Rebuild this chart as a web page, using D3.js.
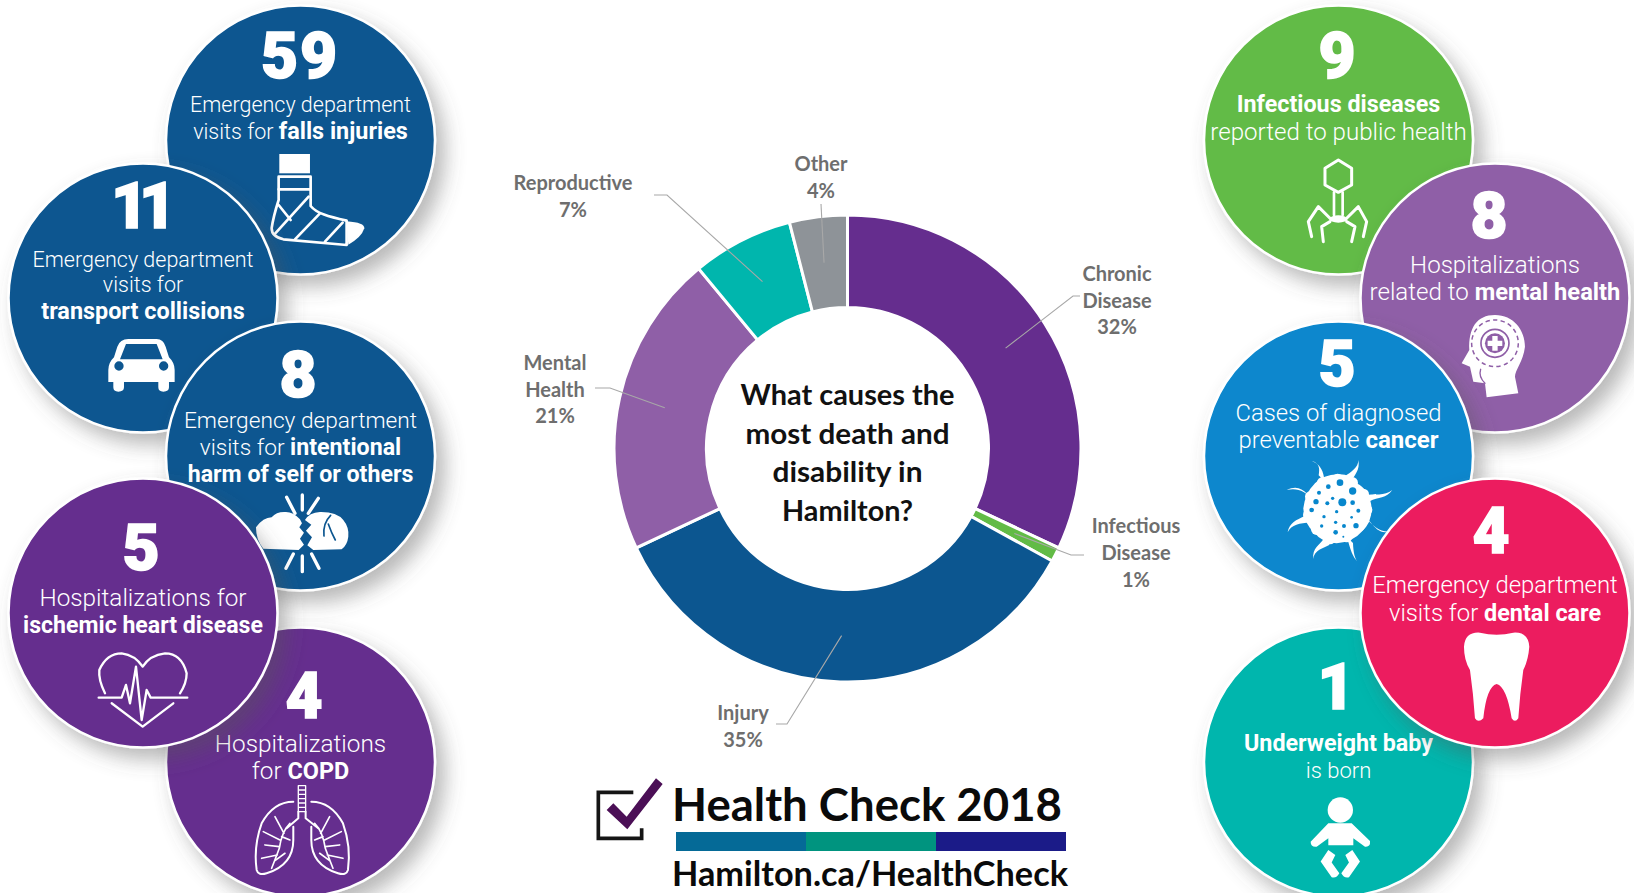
<!DOCTYPE html>
<html>
<head>
<meta charset="utf-8">
<script src="https://cdn.jsdelivr.net/npm/d3@7/dist/d3.min.js"></script>
<style>
  html, body { margin: 0; padding: 0; background: #fff; }
  svg { display: block; }
  .leader { fill: none; stroke: #a8a8a8; stroke-width: 1.1; }
  .callout { font-family: Lato, sans-serif; font-weight: 700; fill: #6e6e6e; text-anchor: middle; }
  .stat { font-family: Roboto, sans-serif; fill: #fff; text-anchor: middle; }
</style>
</head>
<body>
<svg id="chart" width="1634" height="893"></svg>
<script>
// Share of death and disability by cause, clockwise from twelve o'clock
const causes = ["Chronic Disease", "Infectious Disease", "Injury", "Mental Health", "Reproductive", "Other"];
const causeShares = [32, 1, 35, 21, 7, 4];
const causeColors = ["#652d8e", "#62bb46", "#0c5690", "#8f5fa7", "#00b6ad", "#8e9398"];
const centerQuestion = ["What causes the", "most death and", "disability in", "Hamilton?"];

// Daily counts shown in the bubbles, in stacking order on each side
const bubbleCounts = [59, 11, 8, 4, 5, 9, 8, 5, 1, 4];
const bubbleCopy = [
  [[["Emergency department", 0]], [["visits for ", 0], ["falls injuries", 1]]],
  [[["Emergency department", 0]], [["visits for", 0]], [["transport collisions", 1]]],
  [[["Emergency department", 0]], [["visits for ", 0], ["intentional", 1]], [["harm of self or others", 1]]],
  [[["Hospitalizations", 0]], [["for ", 0], ["COPD", 1]]],
  [[["Hospitalizations for", 0]], [["ischemic heart disease", 1]]],
  [[["Infectious diseases", 1]], [["reported to public health", 0]]],
  [[["Hospitalizations", 0]], [["related to ", 0], ["mental health", 1]]],
  [[["Cases of diagnosed", 0]], [["preventable ", 0], ["cancer", 1]]],
  [[["Underweight baby", 1]], [["is born", 0]]],
  [[["Emergency department", 0]], [["visits for ", 0], ["dental care", 1]]]
];
const bubbleColors = ["#0c5690", "#0c5690", "#0c5690", "#652d8e", "#652d8e",
                      "#62bb46", "#8f5fa7", "#0787cd", "#00b6ad", "#ec1f5f"];

// Bubble placement: centre, number position and tracking, text baselines, regular and bold type size
const bubbleLayout = [
  { cx: 300.5, cy: 140, nx: 300, ny: 78, ls: 2, ys: [112, 139], fs: 21.5, bs: 23.4, icon: "cast" },
  { cx: 143, cy: 298, nx: 139, ny: 228, ls: -9, ys: [267, 292, 319], fs: 21.5, bs: 23.4, icon: "car" },
  { cx: 300.5, cy: 456, nx: 298, ny: 397, ls: 0, ys: [428, 455, 482], fs: 22.7, bs: 23.2, icon: "fists" },
  { cx: 300.5, cy: 762, nx: 304, ny: 718, ls: 0, ys: [752, 779], fs: 24.3, bs: 23.4, icon: "lungs" },
  { cx: 143, cy: 613, nx: 141, ny: 570, ls: 0, ys: [606, 633], fs: 24.3, bs: 23.1, icon: "heart" },
  { cx: 1338.5, cy: 140, nx: 1337, ny: 78, ls: 0, ys: [112, 140], fs: 24.1, bs: 23.3, icon: "phage" },
  { cx: 1495, cy: 298, nx: 1489, ny: 238, ls: 0, ys: [273, 300], fs: 24.1, bs: 23.7, icon: "head" },
  { cx: 1338.5, cy: 456, nx: 1337, ny: 386, ls: 0, ys: [421, 448], fs: 23.8, bs: 24, icon: "cell" },
  { cx: 1338.5, cy: 762, nx: 1336, ny: 709, ls: 0, ys: [751, 778], fs: 22, bs: 23.3, icon: "baby" },
  { cx: 1495, cy: 613, nx: 1491, ny: 553, ls: 0, ys: [593, 621], fs: 23.9, bs: 23.4, icon: "tooth" }
];

// Callout placement around the ring: text centre, baselines, leader elbow and end
const calloutLayout = [
  { x: 1117, ys: [281, 308, 334], elbow: [1073, 296], end: [1080, 296], lines: ["Chronic", "Disease"] },
  { x: 1136, ys: [533, 560, 587], elbow: [1071, 555], end: [1084, 555], lines: ["Infectious", "Disease"] },
  { x: 743,  ys: [720, 747],      elbow: [787, 724],  end: [776, 724],  lines: ["Injury"] },
  { x: 555,  ys: [370, 397, 423], elbow: [610, 388],  end: [595, 388],  lines: ["Mental", "Health"] },
  { x: 573,  ys: [190, 217],      elbow: [667, 195],  end: [654, 195],  lines: ["Reproductive"] },
  { x: 821,  ys: [171, 198],      elbow: [821, 204],  end: [821, 204],  lines: ["Other"] }
];

const svg = d3.select("#chart");

// Soft shadow cast down and to the right by every bubble
const shadow = svg.append("defs").append("filter")
  .attr("id", "bubbleShadow")
  .attr("x", "-20%").attr("y", "-20%").attr("width", "150%").attr("height", "150%");
shadow.append("feDropShadow")
  .attr("dx", 9).attr("dy", 11).attr("stdDeviation", 10)
  .attr("flood-color", "#555").attr("flood-opacity", 0.42);

// Ring
const center = [847.5, 448.5];
const ringOuter = 233.5, ringInner = 141;
const pieLayout = d3.pie().value(d => d).sort(null);
const arcGen = d3.arc().innerRadius(ringInner).outerRadius(ringOuter);
const slices = pieLayout(causeShares);

const ring = svg.append("g").attr("transform", `translate(${center})`);
ring.selectAll("path").data(slices).join("path")
  .attr("d", arcGen)
  .attr("fill", (d, i) => causeColors[i])
  .attr("stroke", "#fff")
  .attr("stroke-width", 3);

// Leaders start on each slice's centroid
const lineGen = d3.line();
svg.append("g").selectAll("path").data(slices).join("path")
  .attr("class", "leader")
  .attr("d", (d, i) => {
    const c = arcGen.centroid(d);
    const l = calloutLayout[i];
    return lineGen([[c[0] + center[0], c[1] + center[1]], l.elbow, l.end]);
  });

// Callout text
svg.append("g").selectAll("text")
  .data(slices.flatMap((d, i) => {
    const l = calloutLayout[i];
    return [...l.lines, causeShares[i] + "%"].map((t, k) => ({ t, x: l.x, y: l.ys[k] }));
  }))
  .join("text")
  .attr("class", "callout")
  .attr("font-size", 20)
  .attr("x", d => d.x).attr("y", d => d.y)
  .text(d => d.t);

// Question in the hole of the ring
const questionY = [405, 444, 482, 521];
const questionW = [214, 204, 150, 131];
svg.append("g").selectAll("text").data(centerQuestion).join("text")
  .attr("x", center[0]).attr("y", (d, i) => questionY[i])
  .attr("text-anchor", "middle")
  .attr("font-family", "Lato, sans-serif").attr("font-weight", 700)
  .attr("font-size", 29).attr("fill", "#111")
  .attr("textLength", (d, i) => questionW[i])
  .attr("lengthAdjust", "spacingAndGlyphs")
  .text(d => d);

// White glyphs, written in 3x units and placed through the frame they belong to
const frames = {
  tl: "translate(0,0) scale(.3333)",
  bl: "translate(0,440) scale(.3333)",
  tr: "translate(1190,0) scale(.3333)",
  br: "translate(1190,440) scale(.3333)"
};

function glyphGroup(parent, frame) {
  return parent.append("g").attr("transform", frames[frame]);
}
function fillPath(g, d, color = "#fff") {
  return g.append("path").attr("d", d).attr("fill", color).attr("fill-rule", "evenodd");
}
function strokePath(g, d, w, color = "#fff") {
  return g.append("path").attr("d", d).attr("fill", "none").attr("stroke", color)
    .attr("stroke-width", w).attr("stroke-linejoin", "round").attr("stroke-linecap", "round");
}

const glyphs = {
  cast(p) {
    const g = glyphGroup(p, "tl");
    fillPath(g, "M838,462H930V520H838Z");
    strokePath(g, "M836,530H932V618C950,640 985,650 1040,662L1040,735L850,718Q815,710 815,685Q820,650 836,600Z", 8);
    strokePath(g, "M836,568H930M926,590L826,700M836,615L872,660M960,640L885,718M1028,668L975,725", 8);
    fillPath(g, "M1040,664Q1095,668 1093,685Q1085,712 1045,734Z");
  },
  car(p) {
    const g = glyphGroup(p, "tl");
    fillPath(g, "M385,1017H470Q490,1017 497,1040L507,1072Q524,1088 524,1110V1146H507V1162Q507,1175 490,1175Q475,1175 475,1162V1146H372V1162Q372,1175 355,1175Q340,1175 340,1162V1146H325V1110Q325,1088 342,1072L352,1040Q360,1017 385,1017Z" +
      "M378,1032H470L488,1078H360Z" +
      "M343,1098a14,14 0 1,0 28,0a14,14 0 1,0 -28,0Z" +
      "M477,1098a14,14 0 1,0 28,0a14,14 0 1,0 -28,0Z");
  },
  fists(p) {
    const g = glyphGroup(p, "bl");
    fillPath(g, "M768,262Q790,232 815,232Q830,214 858,216Q880,216 900,238L906,250L898,262L912,278L900,296L912,314L896,330L790,326Q768,300 768,262Z");
    fillPath(g, "M915,240Q928,218 960,216Q1010,215 1030,240Q1048,262 1045,290Q1042,315 1025,328L940,330L922,316L936,292L918,272L934,254Z");
    strokePath(g, "M992,226Q968,250 972,288M985,252Q995,280 1006,300", 5, "#0c5690");
    strokePath(g, "M860,172L885,220M907,165V210M955,175L925,220M880,342L858,385M907,348V395M935,342L957,385", 10);
  },
  heart(p) {
    const g = glyphGroup(p, "bl");
    strokePath(g, "M315,760Q295,720 298,690Q320,640 365,640Q405,645 428,680Q450,645 495,640Q545,640 560,700Q560,730 540,760", 7);
    strokePath(g, "M335,790L428,860L520,790", 7);
    strokePath(g, "M296,773H365L378,735L390,790L408,680L425,840L440,750L452,773H562", 7);
  },
  lungs(p) {
    const g = glyphGroup(p, "bl");
    strokePath(g, "M895,1037H917V1115H895ZM895,1050H917M895,1063H917M895,1076H917M895,1089H917M895,1102H917", 4);
    strokePath(g, "M895,1115V1135L860,1165M917,1115V1135L955,1165", 6);
    [null, "translate(1814,0) scale(-1,1)"].forEach(t => {
      const side = g.append("g").attr("transform", t);
      strokePath(side, "M880,1085Q820,1085 785,1150Q760,1220 770,1290Q775,1308 800,1300Q880,1275 880,1200L880,1160", 6);
      strokePath(side, "M870,1150Q845,1175 838,1225Q825,1260 815,1285M852,1180L825,1130M840,1200L790,1175M838,1220L795,1215M832,1245L785,1255M825,1262L855,1240M845,1190L870,1200", 5);
    });
  },
  phage(p) {
    const g = glyphGroup(p, "tr");
    strokePath(g, "M445,480L485,505V555L445,577L405,555V505Z", 9);
    strokePath(g, "M432,577V645M458,577V645", 8);
    g.append("ellipse").attr("cx", 445).attr("cy", 657).attr("rx", 27).attr("ry", 11).attr("fill", "#fff");
    strokePath(g, "M420,655L385,620L355,665L365,710M470,655L505,620L530,665L520,710M420,665L395,680L400,725M470,665L495,680L485,725", 9);
  },
  head(p) {
    const g = glyphGroup(p, "tr");
    fillPath(g, "M915,945C970,945 1005,990 1005,1040C1000,1085 975,1110 975,1130L985,1180L890,1192L885,1150L850,1145L840,1100L815,1090L838,1050C835,985 860,945 915,945Z");
    g.append("circle").attr("cx", 915).attr("cy", 1030).attr("r", 70)
      .attr("fill", "none").attr("stroke", "#8f5fa7").attr("stroke-width", 4.5).attr("stroke-dasharray", "13 10");
    g.append("circle").attr("cx", 915).attr("cy", 1030).attr("r", 42)
      .attr("fill", "none").attr("stroke", "#8f5fa7").attr("stroke-width", 5);
    g.append("circle").attr("cx", 915).attr("cy", 1030).attr("r", 30).attr("fill", "#8f5fa7");
    fillPath(g, "M907,1008H923V1022H937V1038H923V1052H907V1038H893V1022H907Z");
    strokePath(g, "M872,1108Q865,1130 885,1150", 4, "#8f5fa7");
  },
  cell(p) {
    const g = glyphGroup(p, "br");
    fillPath(g, "M443,103Q480,100 500,130Q540,150 545,205Q545,250 515,275Q490,305 440,310Q395,308 375,280Q340,250 340,205Q345,160 375,130Q400,105 443,103Z");
    // Lumpy membrane around the body
    const lumps = [[443,118],[487,128],[520,163],[530,210],[508,258],[470,290],[420,296],[380,268],[356,225],[362,170],[398,128]];
    g.selectAll("circle.lump").data(lumps).join("circle").attr("class", "lump")
      .attr("cx", d => d[0]).attr("cy", d => d[1]).attr("r", 17).attr("fill", "#fff");
    const arms = [
      [395, 115, 395, 90, 390, 70, 365, 63], [470, 120, 490, 100, 507, 85, 505, 60],
      [530, 175, 560, 165, 585, 172, 607, 150], [530, 235, 555, 265, 570, 278, 597, 275],
      [480, 300, 485, 330, 490, 355, 505, 367], [410, 305, 395, 320, 368, 325, 370, 357],
      [352, 238, 325, 245, 300, 250, 293, 277], [360, 170, 340, 150, 320, 138, 290, 150]
    ];
    arms.forEach(([x0, y0, a, b, c, d, tx, ty]) => {
      fillPath(g, `M${x0 - 9},${y0 - 9}C${a - 5},${b - 5} ${c - 2},${d - 2} ${tx},${ty}C${c + 4},${d + 4} ${a + 5},${b + 5} ${x0 + 9},${y0 + 9}Z`);
    });
    const pits = [[450,128,10],[415,140,7],[488,153,11],[428,175,5],[387,158,6],[457,187,12],[488,188,7],
      [412,190,6],[365,210,7],[505,212,6],[440,215,5],[402,230,5],[485,232,4],[498,257,8],[462,258,6],
      [437,247,5],[395,258,5],[437,277,7],[460,290,3],[378,185,8]];
    g.selectAll("circle.pit").data(pits).join("circle").attr("class", "pit")
      .attr("cx", d => d[0]).attr("cy", d => d[1]).attr("r", d => d[2]).attr("fill", "#0787cd");
  },
  tooth(p) {
    const g = glyphGroup(p, "br");
    fillPath(g, "M870,578Q920,590 970,578Q1015,575 1018,620Q1015,660 1000,690Q990,760 985,835Q975,850 965,835Q950,740 920,732Q890,740 880,835Q865,850 855,835Q850,760 840,690Q822,660 822,620Q825,575 870,578Z");
  },
  baby(p) {
    const g = glyphGroup(p, "br");
    g.append("circle").attr("cx", 451).attr("cy", 1110).attr("r", 38).attr("fill", "#fff");
    fillPath(g, "M415,1150H485L540,1203Q542,1222 525,1220L490,1195V1216H415V1195L380,1220Q362,1222 362,1205Z");
    fillPath(g, "M415,1230L392,1265L425,1312Q440,1316 448,1300L425,1268L436,1245Z");
    fillPath(g, "M487,1230L510,1265L477,1312Q462,1316 454,1300L477,1268L466,1245Z");
  }
};

// Bubbles are stacked in array order so that later ones overlap earlier ones
bubbleCounts.forEach((count, i) => {
  const l = bubbleLayout[i];
  const b = svg.append("g");
  b.append("circle")
    .attr("cx", l.cx).attr("cy", l.cy).attr("r", 134.5)
    .attr("fill", bubbleColors[i])
    .attr("stroke", "#fff").attr("stroke-width", 2.5)
    .attr("filter", "url(#bubbleShadow)");
  b.append("text").attr("class", "stat")
    .attr("x", l.nx).attr("y", l.ny)
    .attr("font-size", 64).attr("font-weight", 900)
    .attr("letter-spacing", l.ls)
    .attr("stroke", "#fff").attr("stroke-width", 1.6)
    .text(count);
  bubbleCopy[i].forEach((runs, k) => {
    const t = b.append("text").attr("class", "stat")
      .attr("x", l.cx).attr("y", l.ys[k]).attr("font-size", l.fs);
    runs.forEach(([s, bold]) => {
      t.append("tspan")
        .attr("font-weight", bold ? 700 : 300)
        .attr("font-size", bold ? l.bs : l.fs)
        .text(s);
    });
  });
  glyphs[l.icon](b);
});

// Health Check sign-off under the ring
const signoffTitle = "Health Check 2018";
const signoffUrl = "Hamilton.ca/HealthCheck";
const signoffBand = ["#056a97", "#00947f", "#1b1b88"];
const signoff = svg.append("g");
signoff.append("g").attr("transform", "translate(580,760) scale(.3333)").call(g => {
  g.append("path").attr("d", "M160,97H55V235H185V205").attr("fill", "none")
    .attr("stroke", "#151515").attr("stroke-width", 11);
  g.append("path").attr("d", "M80,150L100,130L140,170L228,55L248,72L142,208Z").attr("fill", "#4b0f56");
});
signoff.append("text").attr("x", 672).attr("y", 821)
  .attr("font-family", "Lato, sans-serif").attr("font-weight", 700).attr("font-size", 45)
  .attr("fill", "#0a0a0a").attr("textLength", 390).attr("lengthAdjust", "spacingAndGlyphs")
  .text(signoffTitle);
const bandX = d3.scaleBand().domain(d3.range(signoffBand.length)).range([676, 1066]);
signoff.selectAll("rect").data(signoffBand).join("rect")
  .attr("x", (d, i) => bandX(i)).attr("y", 832)
  .attr("width", bandX.bandwidth()).attr("height", 19)
  .attr("fill", d => d);
signoff.append("text").attr("x", 672).attr("y", 886)
  .attr("font-family", "Lato, sans-serif").attr("font-weight", 700).attr("font-size", 34)
  .attr("fill", "#0a0a0a").attr("textLength", 396).attr("lengthAdjust", "spacingAndGlyphs")
  .text(signoffUrl);
</script>
</body>
</html>
